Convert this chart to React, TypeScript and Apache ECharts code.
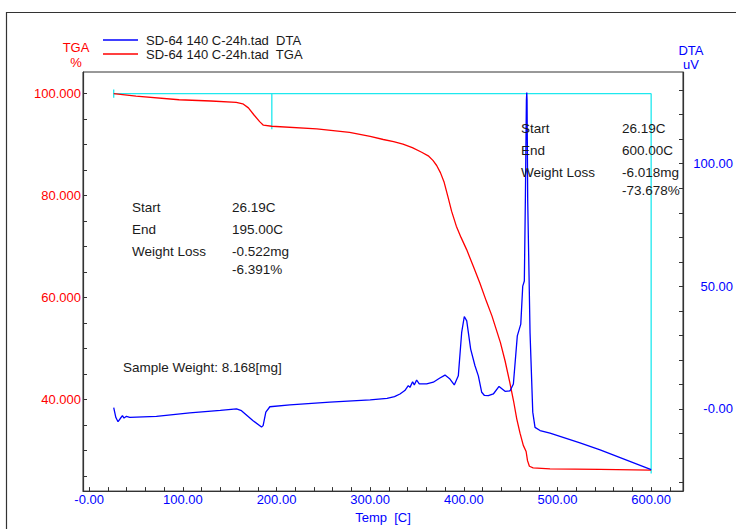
import React, { useEffect, useRef } from "react";
import * as echarts from "echarts";

// ---------- data ----------
const tgaData: number[][] = [
  [26.19, 100.0], [50, 99.5], [96, 98.8], [130, 98.55], [157, 98.3], [164, 98.0],
  [170, 97.2], [176, 95.8], [182, 94.5], [186, 93.8], [195, 93.6], [243, 93.1],
  [278, 92.4], [300, 91.6], [314, 91.0], [325, 90.6], [335, 90.1], [345, 89.4],
  [355, 88.5], [362, 87.8], [367, 86.9], [371, 85.9], [375, 84.5], [379, 82.6],
  [383, 79.8], [387, 76.9], [392, 74.0], [397, 71.8], [403, 69.4], [410, 66.2],
  [417, 62.9], [424, 59.3], [430, 56.4], [439, 51.2], [444, 47.6], [449, 43.4],
  [453, 39.8], [456.5, 36.2], [460, 33.4], [463.5, 31.0], [466.5, 29.8], [468, 28.0],
  [470, 26.9], [474, 26.6], [492, 26.4], [545, 26.3], [600, 26.15],
];

const dtaData: number[][] = [
  [26.2, 0.5], [28.5, -3.5], [30.8, -5.2], [33, -4.0], [35.5, -2.7], [37.2, -3.7],
  [39.8, -3.0], [43.3, -3.4], [71.8, -3.0], [107.4, -1.6], [140, -0.6], [157.3, 0],
  [162.6, -0.7], [175, -4.8], [184, -7.4], [185.7, -6.8], [188.6, -1.3], [192.9, 0.9],
  [214.3, 1.7], [257, 2.8], [300, 3.7], [318, 4.3], [326, 5.0], [331.8, 6.1],
  [337, 7.5], [340.7, 9.5], [342.5, 8.8], [345.3, 11.1], [347.1, 9.8], [349.6, 11.8],
  [352.4, 10.2], [360.3, 10.2], [367.4, 10.9], [374, 12.5], [379.9, 13.8], [385.2, 12.2],
  [389.8, 9.8], [394.1, 13.5], [397.7, 31.2], [400.5, 37.7], [403.1, 35.9], [407.3, 24.4],
  [411.9, 17.6], [415.5, 13.5], [419.1, 6.8], [422, 5.5], [426.2, 5.4], [431.5, 6.1],
  [437.6, 9.2], [444, 7.2], [449.4, 7.4], [452.9, 10.2], [457.1, 29.8], [460.8, 34.6],
  [462.9, 50.1], [464.6, 52.2], [465.7, 85.4], [466.8, 126], [467.2, 129], [467.5, 126],
  [468.2, 85], [470.7, 31], [473.6, -1.3], [476, -7.5], [481.4, -8.8], [492, -9.9],
  [524, -13.8], [545.5, -16.7], [600, -24.7],
];

// analysis step markers (TGA axis)
const stepStartT = 26.19;
const stepEndsT = [195, 600];
const stepTop = 100;
const stepBottoms = [93.0, 25.5];

const xLabelValues = [0, 100, 200, 300, 400, 500, 600];
const xTickValues = [0, 20, 40, 60, 80, 100, 120, 140, 160, 180, 200, 220, 240, 260, 280, 300, 320, 340, 360, 380, 400, 420, 440, 460, 480, 500, 520, 540, 560, 580, 600, 620];
const tgaLabelValues = [40, 60, 80, 100];
const tgaTickValues = [25, 30, 35, 40, 45, 50, 55, 60, 65, 70, 75, 80, 85, 90, 95, 100];
const dtaLabelValues = [0, 50, 100];
const dtaTickValues = [-30, -20, -10, 0, 10, 20, 30, 40, 50, 60, 70, 80, 90, 100, 110, 120, 130];

const legendNames = ["SD-64 140 C-24h.tad  DTA", "SD-64 140 C-24h.tad  TGA"];

const FONT = "'Liberation Sans', Arial, sans-serif";
const BLUE = "#0000ff";
const RED = "#ff0000";
const CYAN = "#1ee8ee";

export default function App() {
  const ref = useRef<HTMLDivElement>(null);
  useEffect(() => {
    if (!ref.current) return;
    const chart = echarts.init(ref.current, undefined, { renderer: "svg" });

    const cyanSeries = [
      [[stepStartT, stepTop], [stepEndsT[1], stepTop]],
      [[stepStartT, stepTop + 0.8], [stepStartT, stepTop - 0.8]],
      [[stepEndsT[0], stepTop], [stepEndsT[0], stepBottoms[0]]],
      [[stepEndsT[1], stepTop], [stepEndsT[1], stepBottoms[1]]],
    ].map((d) => ({
      type: "line",
      xAxisIndex: 0,
      yAxisIndex: 0,
      data: d,
      showSymbol: false,
      silent: true,
      lineStyle: { color: CYAN, width: 1.3 },
      z: 1,
    }));

    const txt = (x: number, y: number, text: string, fill = "#1a1a1a", size = 13.5, extra: any = {}) => ({
      type: "text",
      x,
      y,
      style: { text, fill, font: `${size}px ${FONT}`, textVerticalAlign: "middle", ...extra },
      z: 100,
    });

    const option: any = {
      animation: false,
      backgroundColor: "#ffffff",
      grid: {
        left: 83,
        right: 53,
        top: 72,
        bottom: 36.5,
        show: true,
        borderColor: "#333333",
        borderWidth: 1,
        backgroundColor: "transparent",
      },
      xAxis: {
        type: "value",
        min: -6.6,
        max: 634,
        splitLine: { show: false },
        axisLine: { show: true, onZero: false, lineStyle: { color: "#333333", width: 1.2 } },
        axisTick: { show: true, inside: true, length: 4, customValues: xTickValues, lineStyle: { color: "#333333" } },
        axisLabel: {
          customValues: xLabelValues,
          color: BLUE,
          fontSize: 13,
          fontFamily: FONT,
          margin: 2,
          formatter: (v: number) => (v === 0 ? "-0.00" : v.toFixed(2)),
        },
        name: "Temp  [C]",
        nameLocation: "middle",
        nameGap: 17,
        nameTextStyle: { color: BLUE, fontSize: 13, fontFamily: FONT },
      },
      yAxis: [
        {
          type: "value",
          position: "left",
          min: 22.03,
          max: 104.24,
          splitLine: { show: false },
          axisLine: { show: true, onZero: false, lineStyle: { color: "#333333", width: 1.2 } },
          axisTick: { show: true, inside: true, length: 4, customValues: tgaTickValues, lineStyle: { color: "#333333" } },
          axisLabel: {
            customValues: tgaLabelValues,
            color: RED,
            fontSize: 13,
            fontFamily: FONT,
            margin: 2,
            formatter: (v: number) => v.toFixed(3),
          },
        },
        {
          type: "value",
          position: "right",
          min: -33.5,
          max: 137.4,
          splitLine: { show: false },
          axisLine: { show: true, onZero: false, lineStyle: { color: "#333333", width: 1.2 } },
          axisTick: { show: true, inside: true, length: 4, customValues: dtaTickValues, lineStyle: { color: "#333333" } },
          axisLabel: {
            customValues: dtaLabelValues,
            color: BLUE,
            fontSize: 13,
            fontFamily: FONT,
            margin: 50,
            align: "right",
            formatter: (v: number) => (v === 0 ? "-0.00" : v.toFixed(2)),
          },
        },
      ],
      series: [
        ...cyanSeries,
        {
          name: legendNames[1],
          type: "line",
          yAxisIndex: 0,
          data: tgaData,
          showSymbol: false,
          lineStyle: { color: RED, width: 1.3 },
          z: 3,
        },
        {
          name: legendNames[0],
          type: "line",
          yAxisIndex: 1,
          data: dtaData,
          showSymbol: false,
          lineStyle: { color: BLUE, width: 1.3 },
          z: 4,
        },
      ],
      graphic: [
        {
          type: "rect",
          shape: { x: 6.5, y: 12.5, width: 900, height: 700 },
          style: { fill: "none", stroke: "#333333", lineWidth: 1.2 },
          silent: true,
          z: 0,
        },
        // legend
        { type: "line", shape: { x1: 103, y1: 40, x2: 138, y2: 40 }, style: { stroke: BLUE, lineWidth: 1.3 }, z: 100 },
        { type: "line", shape: { x1: 103, y1: 54, x2: 138, y2: 54 }, style: { stroke: RED, lineWidth: 1.3 }, z: 100 },
        txt(146, 40, legendNames[0], "#1a1a1a", 13),
        txt(146, 54, legendNames[1], "#1a1a1a", 13),
        // axis titles
        txt(76, 47, "TGA", RED, 13, { textAlign: "center" }),
        txt(76, 62, "%", RED, 13, { textAlign: "center" }),
        txt(691, 50, "DTA", BLUE, 13, { textAlign: "center" }),
        txt(691, 64, "uV", BLUE, 13, { textAlign: "center" }),
        // step 1 annotation
        txt(132, 207, "Start"),
        txt(232, 207, "26.19C"),
        txt(132, 229, "End"),
        txt(232, 229, "195.00C"),
        txt(132, 251, "Weight Loss"),
        txt(232, 251, "-0.522mg"),
        txt(232, 269, "-6.391%"),
        // step 2 annotation
        txt(521, 128, "Start"),
        txt(622, 128, "26.19C"),
        txt(521, 150, "End"),
        txt(622, 150, "600.00C"),
        txt(521, 172, "Weight Loss"),
        txt(622, 172, "-6.018mg"),
        txt(622, 190, "-73.678%"),
        // sample weight
        txt(123, 367, "Sample Weight: 8.168[mg]"),
      ],
    };

    chart.setOption(option);
    return () => chart.dispose();
  }, []);

  return (
    <div
      ref={ref}
      style={{ position: "fixed", left: 0, top: 0, width: 736, height: 529, background: "#fff" }}
    />
  );
}
